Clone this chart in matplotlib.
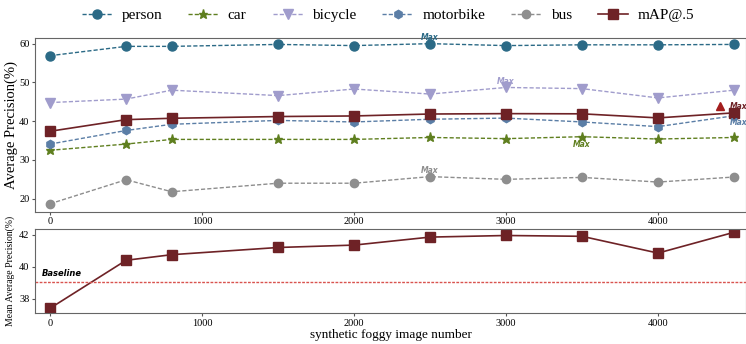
import numpy as np
import matplotlib.pyplot as plt

x = [0, 500, 800, 1500, 2000, 2500, 3000, 3500, 4000, 4500]

person = [56.9, 59.3, 59.3, 59.8, 59.5, 60.0, 59.5, 59.7, 59.7, 59.8]
car = [32.5, 34.1, 35.3, 35.3, 35.3, 35.8, 35.5, 36.0, 35.4, 35.8]
bicycle = [44.8, 45.7, 48.0, 46.6, 48.3, 47.0, 48.7, 48.4, 46.0, 48.0]
motorbike = [34.1, 37.6, 39.2, 40.2, 39.8, 40.5, 40.8, 39.8, 38.6, 41.4]
bus = [18.7, 24.9, 21.8, 24.0, 24.0, 25.7, 25.0, 25.5, 24.3, 25.6]
mAP = [37.4, 40.4, 40.75, 41.2, 41.35, 41.85, 41.95, 41.9, 40.85, 42.15]
baseline = 39.05

c_person = '#2b6a86'
c_car = '#5f7f1f'
c_bicycle = '#a09ccc'
c_motor = '#5b7ea6'
c_bus = '#8e8e8e'
c_map = '#6e2226'

plt.rcParams['font.family'] = ['Liberation Serif', 'DejaVu Serif']

fig = plt.figure(figsize=(7.46, 3.44), dpi=100)
ax = fig.add_axes([0.047, 0.384, 0.953, 0.506])
ax2 = fig.add_axes([0.047, 0.090, 0.953, 0.244])

ls = (0, (3, 1.5))
ax.plot(x, person, ls=ls, lw=1, color=c_person, marker='o', ms=6.5, label='person')
ax.plot(x, car, ls=ls, lw=1, color=c_car, marker='*', ms=6.5, label='car')
ax.plot(x, bicycle, ls=ls, lw=1, color=c_bicycle, marker='v', ms=6.5, label='bicycle')
ax.plot(x, motorbike, ls=ls, lw=1, color=c_motor, marker='h', ms=6, label='motorbike')
ax.plot(x, bus, ls=ls, lw=1, color=c_bus, marker='o', ms=6, label='bus')
ax.plot(x, mAP, ls='-', lw=1.2, color=c_map, marker='s', ms=7, label='mAP@.5')

# Max labels
kw = dict(fontsize=5.5, fontweight='bold', fontstyle='italic', family='DejaVu Sans', ha='center')
ax.text(2500, 60.5, 'Max', color=c_person, va='bottom', **kw)
ax.text(3000, 49.2, 'Max', color=c_bicycle, va='bottom', **kw)
ax.text(2500, 26.1, 'Max', color=c_bus, va='bottom', **kw)
ax.text(3500, 35.2, 'Max', color=c_car, va='top', **kw)
ax.text(4530, 40.8, 'Max', color=c_motor, va='top', **kw)
ax.plot([4410], [43.8], marker='^', color='#a31d1d', ms=6, ls='none')
ax.text(4470, 43.9, 'Max', color=c_map, va='center', ha='left', fontsize=5.5,
        fontweight='bold', fontstyle='italic', family='DejaVu Sans')

ax.set_xlim(-99, 4579)
ax.set_ylim(16.6, 61.5)
ax.set_yticks([20, 30, 40, 50, 60])
ax.set_xticks([0, 1000, 2000, 3000, 4000])
ax.set_ylabel('Average Precision(%)', fontsize=10.5, labelpad=1)

ax2.plot(x, mAP, ls='-', lw=1.2, color=c_map, marker='s', ms=7)
ax2.axhline(baseline, color='#d9534f', ls=(0, (2, 1)), lw=1)
ax2.text(-55, baseline + 0.25, 'Baseline', fontsize=6, fontweight='bold', fontstyle='italic',
         family='DejaVu Sans', va='bottom', ha='left')
ax2.set_xlim(-99, 4579)
ax2.set_ylim(37.1, 42.35)
ax2.set_yticks([38, 40, 42])
ax2.set_xticks([0, 1000, 2000, 3000, 4000])
ax2.set_ylabel('Mean Average Precision(%)', fontsize=7, labelpad=3)
ax2.set_xlabel('synthetic foggy image number', fontsize=9.5, labelpad=1)

for a in (ax, ax2):
    a.tick_params(labelsize=7.5, length=2, color='#555555', pad=2)
    for s in a.spines.values():
        s.set_color('#666666')

handles, labels = ax.get_legend_handles_labels()
fig.legend(handles, labels, loc='center', bbox_to_anchor=(0.52, 0.955), ncol=6,
           frameon=False, fontsize=11, handlelength=2.0, columnspacing=1.7, handletextpad=0.6)

fig.savefig('out.png', dpi=100)
